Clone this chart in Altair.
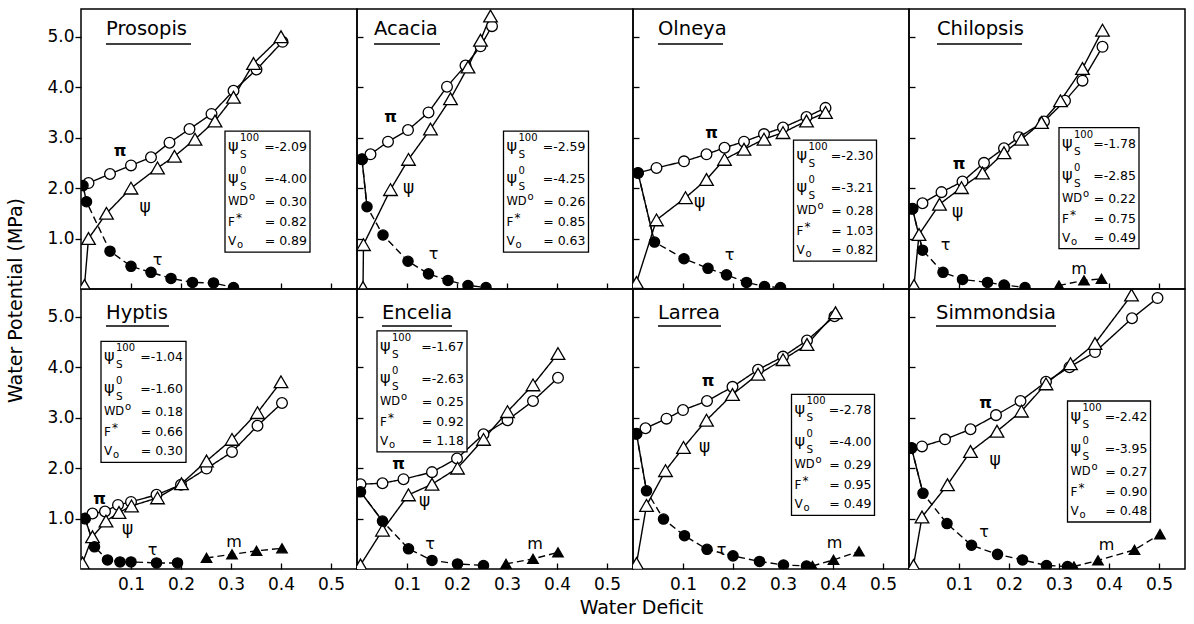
import altair as alt
import pandas as pd

FONT = "DejaVu Sans"

SPECIES = ["Prosopis", "Acacia", "Olneya", "Chilopsis",
           "Hyptis", "Encelia", "Larrea", "Simmondsia"]

# Curves: (water deficit, MPa) pairs.  pi = osmotic, psi = water potential,
# tau = turgor, m = matric
PROSOPIS_PI = [(0.015, 2.10), (0.058, 2.28), (0.100, 2.45), (0.140, 2.61), (0.177, 2.90),
               (0.217, 3.17), (0.261, 3.47), (0.305, 3.93), (0.351, 4.35), (0.403, 4.90)]
PROSOPIS_PSI = [(0.007, 0.07), (0.015, 1.00), (0.051, 1.50), (0.100, 2.00), (0.153, 2.40),
                (0.187, 2.63), (0.228, 2.97), (0.268, 3.33), (0.305, 3.80), (0.345, 4.47),
                (0.400, 5.00)]
PROSOPIS_TAU = [(0.004, 2.05), (0.011, 1.73), (0.058, 0.75), (0.100, 0.45), (0.140, 0.33),
                (0.180, 0.21), (0.223, 0.13), (0.265, 0.12), (0.305, 0.03)]
PROSOPIS_M = []

ACACIA_PI = [(0.010, 2.57), (0.027, 2.67), (0.062, 2.92), (0.102, 3.15), (0.143, 3.50),
             (0.180, 4.01), (0.217, 4.43), (0.247, 4.81), (0.270, 5.21)]
ACACIA_PSI = [(0.012, 0.03), (0.013, 0.88), (0.067, 1.97), (0.103, 2.57), (0.147, 3.17),
              (0.187, 3.77), (0.222, 4.40), (0.247, 4.93), (0.267, 5.41)]
ACACIA_TAU = [(0.010, 2.57), (0.020, 1.63), (0.052, 1.07), (0.102, 0.55), (0.143, 0.30),
              (0.182, 0.17), (0.222, 0.07), (0.258, 0.03)]
ACACIA_M = []

OLNEYA_PI = [(0.010, 2.30), (0.047, 2.40), (0.102, 2.53), (0.147, 2.67), (0.183, 2.80),
             (0.222, 2.92), (0.262, 3.07), (0.300, 3.20), (0.347, 3.41), (0.385, 3.59)]
OLNEYA_PSI = [(0.007, 0.13), (0.047, 1.37), (0.105, 1.81), (0.147, 2.17), (0.183, 2.57),
              (0.222, 2.77), (0.262, 2.97), (0.300, 3.10), (0.347, 3.33), (0.385, 3.50)]
OLNEYA_TAU = [(0.010, 2.30), (0.043, 0.93), (0.102, 0.60), (0.150, 0.41), (0.187, 0.28),
              (0.227, 0.13), (0.263, 0.05), (0.295, 0.03)]
OLNEYA_M = []

CHILOPSIS_PI = [(0.007, 1.59), (0.027, 1.70), (0.065, 1.92), (0.107, 2.13), (0.150, 2.50),
                (0.190, 2.79), (0.220, 3.01), (0.270, 3.32), (0.312, 3.73), (0.347, 4.13),
                (0.387, 4.80)]
CHILOPSIS_PSI = [(0.010, 0.07), (0.020, 1.08), (0.061, 1.68), (0.105, 2.01), (0.147, 2.30),
                 (0.190, 2.70), (0.225, 2.97), (0.265, 3.30), (0.303, 3.73), (0.347, 4.37),
                 (0.387, 5.13)]
CHILOPSIS_TAU = [(0.007, 1.59), (0.027, 0.77), (0.068, 0.33), (0.107, 0.19), (0.157, 0.13),
                 (0.190, 0.08), (0.232, 0.03)]
CHILOPSIS_M = [(0.300, 0.07), (0.350, 0.17), (0.385, 0.20)]

HYPTIS_PI = [(0.008, 1.00), (0.023, 1.10), (0.048, 1.14), (0.074, 1.27), (0.100, 1.33),
             (0.151, 1.47), (0.200, 1.67), (0.251, 1.99), (0.302, 2.32), (0.353, 2.84),
             (0.402, 3.29)]
HYPTIS_PSI = [(0.003, 0.12), (0.023, 0.64), (0.050, 0.95), (0.076, 1.12), (0.101, 1.25),
              (0.153, 1.41), (0.201, 1.69), (0.251, 2.14), (0.302, 2.57), (0.353, 3.10),
              (0.400, 3.71)]
HYPTIS_TAU = [(0.008, 1.00), (0.027, 0.44), (0.053, 0.18), (0.078, 0.14), (0.100, 0.14),
              (0.151, 0.12), (0.193, 0.12)]
HYPTIS_M = [(0.251, 0.22), (0.302, 0.29), (0.351, 0.36), (0.402, 0.41)]

ENCELIA_PI = [(0.007, 1.68), (0.051, 1.70), (0.093, 1.78), (0.150, 1.92), (0.200, 2.19),
              (0.253, 2.67), (0.301, 2.95), (0.352, 3.33), (0.402, 3.79)]
ENCELIA_PSI = [(0.007, 0.08), (0.051, 0.77), (0.103, 1.47), (0.150, 1.68), (0.201, 2.00),
               (0.253, 2.57), (0.301, 3.12), (0.352, 3.65), (0.402, 4.27)]
ENCELIA_TAU = [(0.007, 1.53), (0.051, 0.95), (0.103, 0.40), (0.150, 0.17), (0.201, 0.10),
               (0.253, 0.07)]
ENCELIA_M = [(0.298, 0.10), (0.352, 0.20), (0.402, 0.33)]

LARREA_PI = [(0.007, 2.68), (0.025, 2.79), (0.067, 2.98), (0.100, 3.15), (0.148, 3.33),
             (0.199, 3.61), (0.250, 3.95), (0.300, 4.21), (0.348, 4.53), (0.403, 5.01)]
LARREA_PSI = [(0.007, 0.11), (0.027, 1.26), (0.065, 1.95), (0.101, 2.41), (0.147, 2.95),
              (0.199, 3.46), (0.250, 3.86), (0.300, 4.15), (0.348, 4.45), (0.405, 5.08)]
LARREA_TAU = [(0.007, 2.68), (0.027, 1.55), (0.061, 0.99), (0.103, 0.66), (0.148, 0.39),
              (0.200, 0.26), (0.253, 0.15), (0.301, 0.08), (0.347, 0.06)]
LARREA_M = [(0.359, 0.06), (0.401, 0.18), (0.452, 0.35)]

SIMMONDSIA_PI = [(0.005, 2.40), (0.026, 2.43), (0.072, 2.57), (0.123, 2.77), (0.174, 3.05),
                 (0.223, 3.33), (0.274, 3.71), (0.321, 4.00), (0.372, 4.30), (0.446, 4.97),
                 (0.497, 5.37)]
SIMMONDSIA_PSI = [(0.009, 0.07), (0.026, 1.03), (0.077, 1.67), (0.123, 2.33), (0.176, 2.73),
                  (0.225, 3.13), (0.274, 3.67), (0.323, 4.07), (0.372, 4.47), (0.445, 5.43)]
SIMMONDSIA_TAU = [(0.005, 2.40), (0.028, 1.50), (0.076, 0.90), (0.125, 0.47), (0.177, 0.29),
                  (0.227, 0.18), (0.275, 0.07), (0.317, 0.05)]
SIMMONDSIA_M = [(0.330, 0.05), (0.378, 0.17), (0.451, 0.38), (0.502, 0.69)]

CURVES = [
    (PROSOPIS_PI, PROSOPIS_PSI, PROSOPIS_TAU, PROSOPIS_M),
    (ACACIA_PI, ACACIA_PSI, ACACIA_TAU, ACACIA_M),
    (OLNEYA_PI, OLNEYA_PSI, OLNEYA_TAU, OLNEYA_M),
    (CHILOPSIS_PI, CHILOPSIS_PSI, CHILOPSIS_TAU, CHILOPSIS_M),
    (HYPTIS_PI, HYPTIS_PSI, HYPTIS_TAU, HYPTIS_M),
    (ENCELIA_PI, ENCELIA_PSI, ENCELIA_TAU, ENCELIA_M),
    (LARREA_PI, LARREA_PSI, LARREA_TAU, LARREA_M),
    (SIMMONDSIA_PI, SIMMONDSIA_PSI, SIMMONDSIA_TAU, SIMMONDSIA_M),
]

# Pressure-volume parameters per species
PSI_S100 = ["-2.09", "-2.59", "-2.30", "-1.78", "-1.04", "-1.67", "-2.78", "-2.42"]
PSI_S0 = ["-4.00", "-4.25", "-3.21", "-2.85", "-1.60", "-2.63", "-4.00", "-3.95"]
WD0 = ["0.30", "0.26", "0.28", "0.22", "0.18", "0.25", "0.29", "0.27"]
F_STAR = ["0.82", "0.85", "1.03", "0.75", "0.66", "0.92", "0.95", "0.90"]
V0 = ["0.89", "0.63", "0.82", "0.49", "0.30", "1.18", "0.49", "0.48"]

X_TICKS = [0.1, 0.2, 0.3, 0.4, 0.5]
Y_TICKS = [1.0, 2.0, 3.0, 4.0, 5.0]

# ---- layout of the panels and their annotations ----
W, H = 276, 280
XMAX, YMAX = 0.552, 5.55
XPX, YPX = XMAX / W, YMAX / H

BOX_X = [0.288, 0.293, 0.321, 0.300, 0.040, 0.040, 0.317, 0.317]
BOX_Y = [3.13, 3.13, 2.95, 3.20, 4.51, 4.72, 3.46, 3.33]
BOX_W = [85, 85, 83, 80, 85, 90, 83, 83]
BOX_H = 121

NAME_DX = [25, 17, 25, 28, 25, 25, 25, 27]
NAME_UNDERLINE = [85, 66, 65, 85, 63, 70, 63, 120]

PI_LABEL = [(0.078, 2.73), (0.067, 3.40), (0.157, 3.10), (0.100, 2.48),
            (0.037, 1.39), (0.083, 2.08), (0.150, 3.73), (0.153, 3.30)]
PSI_LABEL = [(0.128, 1.63), (0.103, 2.00), (0.133, 1.73), (0.097, 1.53),
             (0.093, 0.80), (0.135, 1.35), (0.143, 2.41), (0.172, 2.17)]
TAU_LABEL = [(0.153, 0.57), (0.153, 0.70), (0.193, 0.67), (0.073, 0.87),
             (0.143, 0.38), (0.146, 0.50), (0.177, 0.38), (0.150, 0.73)]
M_LABEL = [None, None, None, (0.340, 0.40), (0.306, 0.54), (0.356, 0.50),
           (0.403, 0.51), (0.395, 0.47)]

SERIES = ["pi", "psi", "tau0", "tau", "m"]
DASHES = [[1, 0], [1, 0], [1, 0], [7, 4], [7, 4]]


def fmt_value(v):
    return "=" + v if v.startswith("-") else "= " + v


def curve_frame(name, pts):
    return pd.DataFrame({"x": [p[0] for p in pts], "y": [p[1] for p in pts],
                         "series": name, "k": range(len(pts))})


def panel(i):
    col, row = i % 4, i // 4
    pi, psi, tau, m = CURVES[i]
    frames = [curve_frame("pi", pi), curve_frame("psi", psi), curve_frame("tau", tau)]
    if m:
        frames.append(curve_frame("m", m))
    curves = pd.concat(frames, ignore_index=True)
    # the steep first drop of the turgor curve is drawn solid
    steep = curve_frame("tau0", tau[:2])
    line_data = pd.concat([curves, steep], ignore_index=True)

    x_axis = alt.Axis(values=X_TICKS, format=".1f", labels=(row == 1), domain=False,
                      grid=False, tickColor="black", tickSize=6, tickWidth=1.3, offset=-6,
                      labelPadding=7, labelFont=FONT, labelFontSize=17, labelColor="black",
                      title=None)
    if col == 0:
        y_axis = alt.Axis(values=Y_TICKS, format=".1f", domain=False, grid=False,
                          tickColor="black", tickSize=6, tickWidth=1.3, labelPadding=1,
                          labelFont=FONT, labelFontSize=17, labelColor="black", title=None)
    else:
        y_axis = alt.Axis(values=Y_TICKS, labels=False, domain=False, grid=False,
                          tickColor="black", tickSize=6, tickWidth=1.3, offset=-6, title=None)
    X = alt.X("x:Q", scale=alt.Scale(domain=[0, XMAX], nice=False, zero=False), axis=x_axis)
    Y = alt.Y("y:Q", scale=alt.Scale(domain=[0, YMAX], nice=False, zero=False), axis=y_axis)

    lines = alt.Chart(line_data).mark_line(color="black", strokeWidth=1.4, clip=True).encode(
        x=X, y=Y, detail="series:N", order="k:Q",
        strokeDash=alt.StrokeDash("series:N", legend=None,
                                  scale=alt.Scale(domain=SERIES, range=DASHES)))

    def markers(series, shape, size, fill):
        return alt.Chart(curves).transform_filter(alt.datum.series == series).mark_point(
            shape=shape, size=size, filled=True, fill=fill, stroke="black",
            strokeWidth=1.3, opacity=1, clip=True).encode(x=X, y=Y)

    layers = [lines,
              markers("pi", "circle", 115, "white"),
              markers("psi", "triangle-up", 185, "white"),
              markers("tau", "circle", 105, "black"),
              markers("m", "triangle-up", 110, "black")]

    # parameter box
    bx, by, bw = BOX_X[i], BOX_Y[i], BOX_W[i]
    box_df = pd.DataFrame({"x": [bx], "x2": [bx + bw * XPX], "y": [by], "y2": [by - BOX_H * YPX]})
    layers.append(alt.Chart(box_df).mark_rect(fill="white", stroke="black", strokeWidth=1.3)
                  .encode(x=X, x2="x2", y=Y, y2="y2"))

    # (text, dx px, dy px from box top, font size)
    left_items = [("ψ", 3, 15, 16), ("100", 15, 7, 10), ("S", 15, 24, 10.5),
                  ("ψ", 3, 47, 16), ("0", 15, 40, 10), ("S", 15, 56, 10.5),
                  ("WD", 3, 71, 11.5), ("o", 24, 66, 10),
                  ("F", 3, 91, 12), ("*", 11, 87, 12),
                  ("V", 3, 110, 12), ("o", 12, 114, 10)]
    left_df = pd.DataFrame({"x": [bx + it[1] * XPX for it in left_items],
                            "y": [by - it[2] * YPX for it in left_items],
                            "t": [it[0] for it in left_items],
                            "fs": [it[3] for it in left_items]})
    layers.append(alt.Chart(left_df).mark_text(align="left", baseline="middle", font=FONT,
                                               color="black")
                  .encode(x=X, y=Y, text="t:N", size=alt.Size("fs:Q", scale=None, legend=None)))

    values = [PSI_S100[i], PSI_S0[i], WD0[i], F_STAR[i], V0[i]]
    val_dy = [16, 48, 71, 91, 110]
    val_df = pd.DataFrame({"x": [bx + (bw - 3) * XPX] * 5,
                           "y": [by - d * YPX for d in val_dy],
                           "t": [fmt_value(v) for v in values]})
    layers.append(alt.Chart(val_df).mark_text(align="right", baseline="middle", font=FONT,
                                              fontSize=12.5, color="black")
                  .encode(x=X, y=Y, text="t:N"))

    # species name, underlined
    name_top = 20 if row == 0 else 24
    line_top = 35 if row == 0 else 37
    nx = NAME_DX[i] * XPX
    name_df = pd.DataFrame({"x": [nx], "y": [YMAX - name_top * YPX], "t": [SPECIES[i]]})
    layers.append(alt.Chart(name_df).mark_text(align="left", baseline="middle", font=FONT,
                                               fontSize=19.5, color="black")
                  .encode(x=X, y=Y, text="t:N"))
    ul_df = pd.DataFrame({"x": [nx], "x2": [nx + NAME_UNDERLINE[i] * XPX],
                          "y": [YMAX - line_top * YPX]})
    layers.append(alt.Chart(ul_df).mark_rule(color="black", strokeWidth=1.5)
                  .encode(x=X, x2="x2", y=Y))

    # curve labels
    lab = [("π", PI_LABEL[i], "bold"), ("ψ", PSI_LABEL[i], "normal"),
           ("τ", TAU_LABEL[i], "normal"), ("m", M_LABEL[i], "normal")]
    for t, pos, weight in lab:
        if pos is None:
            continue
        df = pd.DataFrame({"x": [pos[0]], "y": [pos[1]], "t": [t]})
        layers.append(alt.Chart(df).mark_text(align="center", baseline="middle", font=FONT,
                                              fontSize=17 if t == "ψ" else 16,
                                              fontWeight=weight, color="black")
                      .encode(x=X, y=Y, text="t:N"))

    return alt.layer(*layers).properties(width=W, height=H)


grid = alt.concat(*[panel(i) for i in range(8)], columns=4, spacing=0, bounds="flush",
                  title=alt.TitleParams("Water Potential (MPa)", orient="left", anchor="middle",
                                        font=FONT, fontSize=19, fontWeight="normal",
                                        color="black", offset=20))
chart = alt.vconcat(grid,
                    title=alt.TitleParams("Water Deficit", orient="bottom", anchor="middle",
                                          font=FONT, fontSize=19, fontWeight="normal",
                                          color="black", offset=6, dx=45)
                    ).configure_view(stroke="black", strokeWidth=1.5).properties(
    background="white", padding={"left": 7, "top": 8, "right": 5, "bottom": 5})

chart.save("out.html", embed_options={"renderer": "svg", "actions": False})
